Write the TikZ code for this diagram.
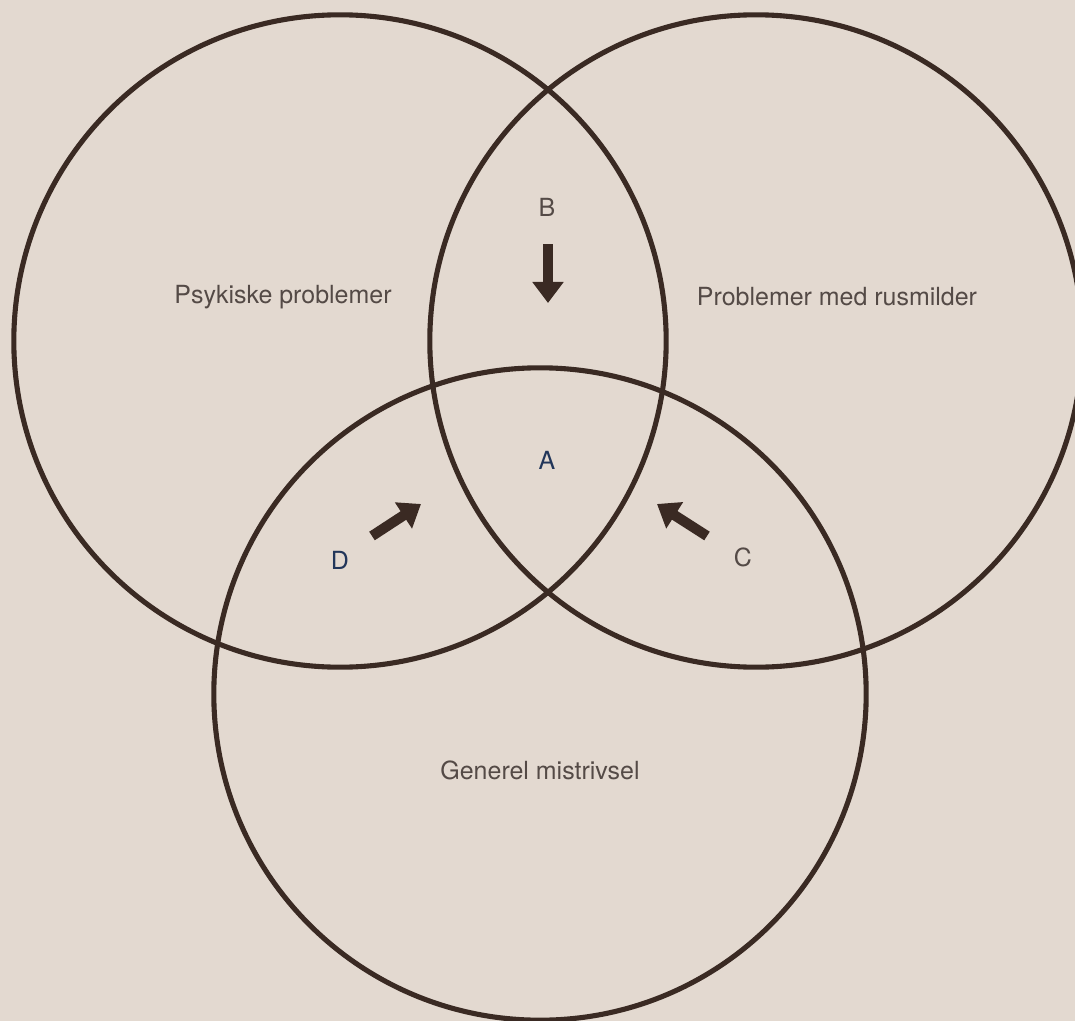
\documentclass[tikz,border=0pt]{standalone}
\usepackage{fontspec}
\setmainfont{TeX Gyre Heros}
\usepackage{tikz}
\usetikzlibrary{positioning}
\usetikzlibrary{arrows.meta}
\definecolor{paper}{HTML}{E3D9D0}
\definecolor{ink}{HTML}{3A2A23}
\definecolor{txt}{HTML}{544A46}
\definecolor{navy}{HTML}{22365A}
\tikzset{ring/.style={draw=ink,line width=1.45pt,circle,minimum size=6.52cm,inner sep=0pt}}
\tikzset{lbl/.style={text=txt,font=\fontsize{7.1}{8.5}\selectfont,inner sep=0pt}}
\tikzset{fat/.style={draw=ink,line width=2.9pt,-{Triangle[length=0.21cm,width=0.30cm]}}}

\begin{document}
\begin{tikzpicture}[x=0.01cm,y=-0.01cm]
		\fill[paper] (0,0) rectangle (1075,1021);
		\clip (0,0) rectangle (1075,1021);
		\node[ring] (psyk) at (340,341) {};
		\node[ring] (rus) at (756,341) {};
		\node[ring] (mis) at (540,694) {};
		\node[lbl] (P) at (283,297) {Psykiske problemer};
		\node[lbl] (R) at (837,297) {Problemer med rusmilder};
		\node[lbl] (G) at (540,770) {Generel mistrivsel};
		\node[lbl] (B) at (547,207) {B};
		\node[lbl,text=navy] (A) at (547,460) {A};
		\node[lbl,text=navy] (D) at (340,560) {D};
		\node[lbl] (C) at (743,557) {C};
		\coordinate (b1) at (548,244);
		\coordinate (b2) at (548,303);
		\coordinate (d1) at (372,536);
		\coordinate (d2) at (421,504);
		\coordinate (c1) at (707,536);
		\coordinate (c2) at (657,504);
		\draw[fat] (b1) -- (b2);
		\draw[fat] (d1) -- (d2);
		\draw[fat] (c1) -- (c2);
	\end{tikzpicture}
\end{document}
